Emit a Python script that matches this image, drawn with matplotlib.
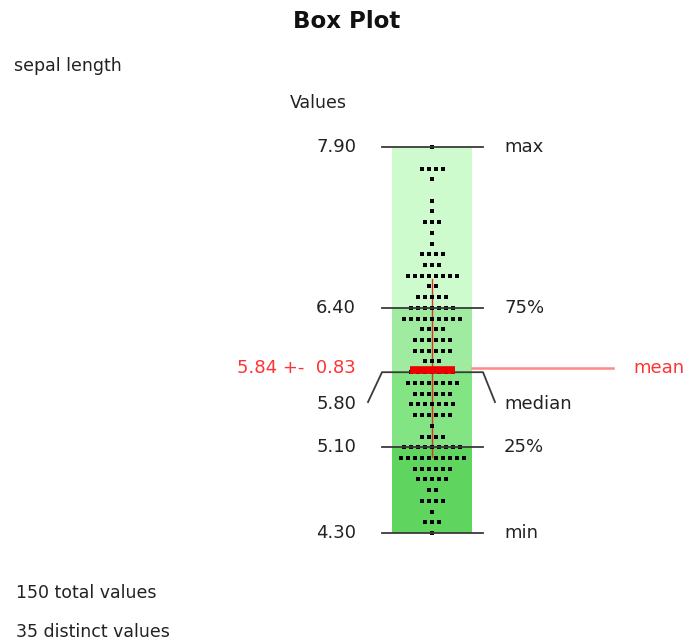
import matplotlib.pyplot as plt
from matplotlib.patches import Rectangle

# distinct sepal length values and how often each occurs
values = [4.3, 4.4, 4.5, 4.6, 4.7, 4.8, 4.9, 5.0, 5.1, 5.2, 5.3, 5.4, 5.5, 5.6,
          5.7, 5.8, 5.9, 6.0, 6.1, 6.2, 6.3, 6.4, 6.5, 6.6, 6.7, 6.8, 6.9, 7.0,
          7.1, 7.2, 7.3, 7.4, 7.6, 7.7, 7.9]
counts = [1, 3, 1, 4, 2, 5, 6, 10, 9, 4, 1, 6, 7, 6,
          8, 7, 3, 6, 6, 4, 9, 7, 5, 2, 8, 3, 4, 1,
          1, 3, 1, 1, 1, 4, 1]

# summary statistics
stat_min = 4.30
q1 = 5.10
median = 5.80
q3 = 6.40
stat_max = 7.90
mean = 5.84
std = 0.83

band_colors = ['#5fd55f', '#82e482', '#9feb9f', '#cdfbcd']

fig = plt.figure(figsize=(6.89, 6.44), dpi=100)
ax = fig.add_axes([0, 0, 1, 1])
ax.set_xlim(0, 689)
# 107.2 px per unit, 4.30 sits at 533 px from the top
ax.set_ylim(4.3 - 111 / 107.2, 4.3 + 533 / 107.2)
ax.axis('off')

cx = 432
box_l, box_r = 392, 472
line_l, line_r = 382, 483

# quartile bands
edges = [stat_min, q1, median, q3, stat_max]
for lo, hi, c in zip(edges[:-1], edges[1:], band_colors):
    ax.add_patch(Rectangle((box_l, lo), box_r - box_l, hi - lo, color=c, lw=0, zorder=1))

# mean +- std
ax.plot([cx, cx], [mean - std, mean + std], color='#e03020', lw=1, zorder=2)

# dot rows, one dot per value, centred on the box
spacing = 7
for v, c in zip(values, counts):
    xs = [cx + (i - (c - 1) / 2) * spacing for i in range(c)]
    ax.plot(xs, [v] * c, 's', color='black', ms=2.3, mew=0, zorder=3)

# quartile lines and labels
lab_font = dict(fontsize=13, color='#222222')
for v, name in [(stat_max, 'max'), (q3, '75%'), (q1, '25%'), (stat_min, 'min')]:
    ax.plot([line_l, line_r], [v, v], color='#3a3a3a', lw=1.3, zorder=4)
    ax.text(356, v, f'{v:.2f}', ha='right', va='center', **lab_font)
    ax.text(504, v, name, ha='left', va='center', **lab_font)

# median with its bracket down to the label
med_lab = median - 32 / 107.2
ax.plot([368, line_l, line_r, 495], [med_lab + 0.02, median, median, med_lab + 0.02],
        color='#3a3a3a', lw=1.3, zorder=4)
ax.text(356, med_lab, f'{median:.2f}', ha='right', va='center', **lab_font)
ax.text(504, med_lab, 'median', ha='left', va='center', **lab_font)

# mean marker and line
ax.plot([410, 455], [mean - 0.02, mean - 0.02], color='#ee0000', lw=5.5,
        solid_capstyle='butt', zorder=5)
ax.plot([box_r, 613], [mean, mean], color='#ff8888', lw=1.8, zorder=2)
ax.text(356, mean, f'{mean:.2f} +-  {std:.2f}', ha='right', va='center',
        fontsize=13, color='#ff3333')
ax.text(633, mean, 'mean', ha='left', va='center', fontsize=13, color='#ff3333')

# titles and notes
fig.text(347 / 689, 1 - 22 / 644, 'Box Plot', ha='center', va='center',
         fontsize=16.5, fontweight='bold', color='#111111')
note_font = dict(fontsize=12.5, color='#222222')
fig.text(14 / 689, 1 - 66 / 644, 'sepal length', ha='left', va='center', **note_font)
fig.text(318 / 689, 1 - 103 / 644, 'Values', ha='center', va='center', **note_font)
fig.text(16 / 689, 1 - 593 / 644, f'{sum(counts)} total values', ha='left', va='center',
         **note_font)
fig.text(16 / 689, 1 - 632 / 644, f'{len(values)} distinct values', ha='left', va='center',
         **note_font)

fig.savefig('out.png', dpi=100, facecolor='white')
